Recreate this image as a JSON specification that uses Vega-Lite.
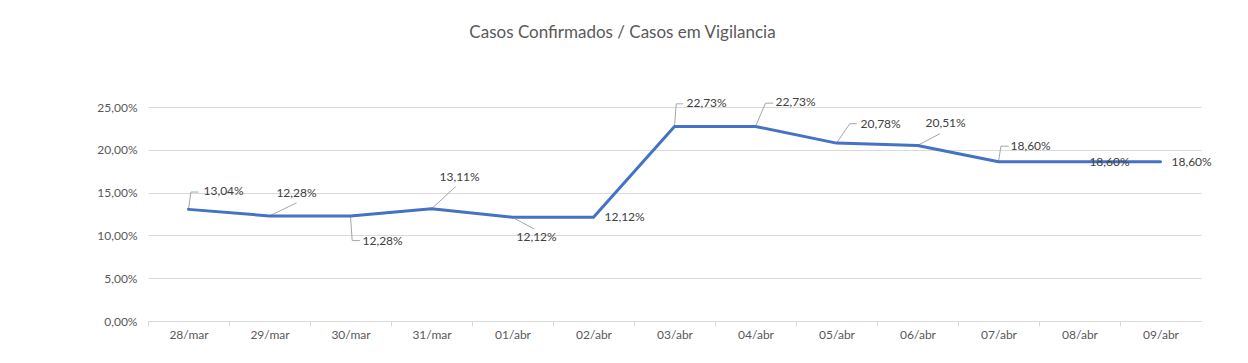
{
  "$schema": "https://vega.github.io/schema/vega-lite/v6.json",
  "width": 1053,
  "height": 214,
  "autosize": {"type": "none"},
  "padding": {"left": 148, "top": 107, "right": 47, "bottom": 42},
  "background": "white",
  "title": {
    "text": "Casos Confirmados / Casos em Vigilancia",
    "font": "Lato",
    "fontSize": 17,
    "fontWeight": "normal",
    "color": "#595959",
    "anchor": "middle",
    "dx": -52,
    "dy": -50
  },
  "data": {
    "values": [
      {"date": "28/mar", "value": 0.1304},
      {"date": "29/mar", "value": 0.1228},
      {"date": "30/mar", "value": 0.1228},
      {"date": "31/mar", "value": 0.1311},
      {"date": "01/abr", "value": 0.1212},
      {"date": "02/abr", "value": 0.1212},
      {"date": "03/abr", "value": 0.2273},
      {"date": "04/abr", "value": 0.2273},
      {"date": "05/abr", "value": 0.2078},
      {"date": "06/abr", "value": 0.2051},
      {"date": "07/abr", "value": 0.186},
      {"date": "08/abr", "value": 0.186},
      {"date": "09/abr", "value": 0.186}
    ]
  },
  "encoding": {
    "x": {
      "field": "date", "type": "ordinal", "sort": null,
      "scale": {"type": "point", "padding": 0.5, "domain": ["28/mar", "29/mar", "30/mar", "31/mar", "01/abr", "02/abr", "03/abr", "04/abr", "05/abr", "06/abr", "07/abr", "08/abr", "09/abr"]},
      "axis": {
        "title": null, "labelAngle": 0, "labelFont": "Lato", "labelFontSize": 12,
        "labelColor": "#595959", "domainColor": "#D9D9D9", "tickColor": "#D9D9D9",
        "tickSize": 5, "tickOffset": -40.5, "labelOffset": 40.5, "labelPadding": 3, "grid": false
      }
    },
    "y": {
      "field": "value", "type": "quantitative",
      "scale": {"domain": [0, 0.25], "nice": false},
      "axis": {
        "title": null, "values": [0, 0.05, 0.1, 0.15, 0.2, 0.25], "format": ".2%",
        "labelFont": "Lato", "labelFontSize": 12, "labelColor": "#595959",
        "domain": false, "ticks": false, "labelPadding": 11,
        "gridColor": "#D9D9D9", "gridWidth": 1
      }
    }
  },
  "layer": [
    {"transform": [{"filter": {"field": "date", "equal": "28/mar"}}], "mark": {"type": "rule", "color": "#A6A6A6", "strokeWidth": 1, "xOffset": 0, "yOffset": 0, "x2Offset": 2.4, "y2Offset": -17.3}, "encoding": {"x2": {"field": "date"}, "y2": {"field": "value"}}},
    {"transform": [{"filter": {"field": "date", "equal": "28/mar"}}], "mark": {"type": "rule", "color": "#A6A6A6", "strokeWidth": 1, "xOffset": 2.4, "yOffset": -17.3, "x2Offset": 10, "y2Offset": -17.3}, "encoding": {"x2": {"field": "date"}, "y2": {"field": "value"}}},
    {"transform": [{"filter": {"field": "date", "equal": "29/mar"}}], "mark": {"type": "rule", "color": "#A6A6A6", "strokeWidth": 1, "xOffset": 0, "yOffset": 0, "x2Offset": 27, "y2Offset": -13}, "encoding": {"x2": {"field": "date"}, "y2": {"field": "value"}}},
    {"transform": [{"filter": {"field": "date", "equal": "30/mar"}}], "mark": {"type": "rule", "color": "#A6A6A6", "strokeWidth": 1, "xOffset": 0, "yOffset": 0.7, "x2Offset": 1.7, "y2Offset": 24.7}, "encoding": {"x2": {"field": "date"}, "y2": {"field": "value"}}},
    {"transform": [{"filter": {"field": "date", "equal": "30/mar"}}], "mark": {"type": "rule", "color": "#A6A6A6", "strokeWidth": 1, "xOffset": 1.7, "yOffset": 24.7, "x2Offset": 9.3, "y2Offset": 24.7}, "encoding": {"x2": {"field": "date"}, "y2": {"field": "value"}}},
    {"transform": [{"filter": {"field": "date", "equal": "31/mar"}}], "mark": {"type": "rule", "color": "#A6A6A6", "strokeWidth": 1, "xOffset": 0, "yOffset": 0, "x2Offset": 24.3, "y2Offset": -22.3}, "encoding": {"x2": {"field": "date"}, "y2": {"field": "value"}}},
    {"transform": [{"filter": {"field": "date", "equal": "01/abr"}}], "mark": {"type": "rule", "color": "#A6A6A6", "strokeWidth": 1, "xOffset": 2.6, "yOffset": 1.6, "x2Offset": 21.6, "y2Offset": 11.6}, "encoding": {"x2": {"field": "date"}, "y2": {"field": "value"}}},
    {"transform": [{"filter": {"field": "date", "equal": "03/abr"}}], "mark": {"type": "rule", "color": "#A6A6A6", "strokeWidth": 1, "xOffset": 0, "yOffset": 0, "x2Offset": 1.7, "y2Offset": -22.6}, "encoding": {"x2": {"field": "date"}, "y2": {"field": "value"}}},
    {"transform": [{"filter": {"field": "date", "equal": "03/abr"}}], "mark": {"type": "rule", "color": "#A6A6A6", "strokeWidth": 1, "xOffset": 1.7, "yOffset": -22.6, "x2Offset": 8.3, "y2Offset": -22.6}, "encoding": {"x2": {"field": "date"}, "y2": {"field": "value"}}},
    {"transform": [{"filter": {"field": "date", "equal": "04/abr"}}], "mark": {"type": "rule", "color": "#A6A6A6", "strokeWidth": 1, "xOffset": 0, "yOffset": 0, "x2Offset": 10, "y2Offset": -23.3}, "encoding": {"x2": {"field": "date"}, "y2": {"field": "value"}}},
    {"transform": [{"filter": {"field": "date", "equal": "04/abr"}}], "mark": {"type": "rule", "color": "#A6A6A6", "strokeWidth": 1, "xOffset": 10, "yOffset": -23.3, "x2Offset": 17.7, "y2Offset": -23.3}, "encoding": {"x2": {"field": "date"}, "y2": {"field": "value"}}},
    {"transform": [{"filter": {"field": "date", "equal": "05/abr"}}], "mark": {"type": "rule", "color": "#A6A6A6", "strokeWidth": 1, "xOffset": 0, "yOffset": 0, "x2Offset": 13.3, "y2Offset": -19.4}, "encoding": {"x2": {"field": "date"}, "y2": {"field": "value"}}},
    {"transform": [{"filter": {"field": "date", "equal": "05/abr"}}], "mark": {"type": "rule", "color": "#A6A6A6", "strokeWidth": 1, "xOffset": 13.3, "yOffset": -19.4, "x2Offset": 20.3, "y2Offset": -19.4}, "encoding": {"x2": {"field": "date"}, "y2": {"field": "value"}}},
    {"transform": [{"filter": {"field": "date", "equal": "06/abr"}}], "mark": {"type": "rule", "color": "#A6A6A6", "strokeWidth": 1, "xOffset": 0, "yOffset": 0, "x2Offset": 22.3, "y2Offset": -11.7}, "encoding": {"x2": {"field": "date"}, "y2": {"field": "value"}}},
    {"transform": [{"filter": {"field": "date", "equal": "07/abr"}}], "mark": {"type": "rule", "color": "#A6A6A6", "strokeWidth": 1, "xOffset": 0, "yOffset": 0, "x2Offset": 2.4, "y2Offset": -15.6}, "encoding": {"x2": {"field": "date"}, "y2": {"field": "value"}}},
    {"transform": [{"filter": {"field": "date", "equal": "07/abr"}}], "mark": {"type": "rule", "color": "#A6A6A6", "strokeWidth": 1, "xOffset": 2.4, "yOffset": -15.6, "x2Offset": 10, "y2Offset": -15.6}, "encoding": {"x2": {"field": "date"}, "y2": {"field": "value"}}},
    {"mark": {"type": "line", "color": "#4472C4", "strokeWidth": 3, "strokeJoin": "round", "strokeCap": "round"}},
    {"transform": [{"filter": {"field": "date", "equal": "28/mar"}}], "mark": {"type": "text", "align": "left", "baseline": "middle", "dx": 15, "dy": -18, "font": "Lato", "fontSize": 12, "color": "#404040"}, "encoding": {"text": {"field": "value", "format": ".2%"}}},
    {"transform": [{"filter": {"field": "date", "equal": "29/mar"}}], "mark": {"type": "text", "align": "center", "baseline": "middle", "dx": 27, "dy": -23, "font": "Lato", "fontSize": 12, "color": "#404040"}, "encoding": {"text": {"field": "value", "format": ".2%"}}},
    {"transform": [{"filter": {"field": "date", "equal": "30/mar"}}], "mark": {"type": "text", "align": "left", "baseline": "middle", "dx": 12, "dy": 25, "font": "Lato", "fontSize": 12, "color": "#404040"}, "encoding": {"text": {"field": "value", "format": ".2%"}}},
    {"transform": [{"filter": {"field": "date", "equal": "31/mar"}}], "mark": {"type": "text", "align": "left", "baseline": "middle", "dx": 8, "dy": -32, "font": "Lato", "fontSize": 12, "color": "#404040"}, "encoding": {"text": {"field": "value", "format": ".2%"}}},
    {"transform": [{"filter": {"field": "date", "equal": "01/abr"}}], "mark": {"type": "text", "align": "left", "baseline": "middle", "dx": 4, "dy": 20, "font": "Lato", "fontSize": 12, "color": "#404040"}, "encoding": {"text": {"field": "value", "format": ".2%"}}},
    {"transform": [{"filter": {"field": "date", "equal": "02/abr"}}], "mark": {"type": "text", "align": "left", "baseline": "middle", "dx": 11, "dy": 0, "font": "Lato", "fontSize": 12, "color": "#404040"}, "encoding": {"text": {"field": "value", "format": ".2%"}}},
    {"transform": [{"filter": {"field": "date", "equal": "03/abr"}}], "mark": {"type": "text", "align": "left", "baseline": "middle", "dx": 12, "dy": -23, "font": "Lato", "fontSize": 12, "color": "#404040"}, "encoding": {"text": {"field": "value", "format": ".2%"}}},
    {"transform": [{"filter": {"field": "date", "equal": "04/abr"}}], "mark": {"type": "text", "align": "left", "baseline": "middle", "dx": 20, "dy": -24, "font": "Lato", "fontSize": 12, "color": "#404040"}, "encoding": {"text": {"field": "value", "format": ".2%"}}},
    {"transform": [{"filter": {"field": "date", "equal": "05/abr"}}], "mark": {"type": "text", "align": "left", "baseline": "middle", "dx": 24, "dy": -19, "font": "Lato", "fontSize": 12, "color": "#404040"}, "encoding": {"text": {"field": "value", "format": ".2%"}}},
    {"transform": [{"filter": {"field": "date", "equal": "06/abr"}}], "mark": {"type": "text", "align": "left", "baseline": "middle", "dx": 8, "dy": -22, "font": "Lato", "fontSize": 12, "color": "#404040"}, "encoding": {"text": {"field": "value", "format": ".2%"}}},
    {"transform": [{"filter": {"field": "date", "equal": "07/abr"}}], "mark": {"type": "text", "align": "left", "baseline": "middle", "dx": 12, "dy": -16, "font": "Lato", "fontSize": 12, "color": "#404040"}, "encoding": {"text": {"field": "value", "format": ".2%"}}},
    {"transform": [{"filter": {"field": "date", "equal": "08/abr"}}], "mark": {"type": "text", "align": "center", "baseline": "middle", "dx": 30, "dy": 0, "font": "Lato", "fontSize": 12, "color": "#404040"}, "encoding": {"text": {"field": "value", "format": ".2%"}}},
    {"transform": [{"filter": {"field": "date", "equal": "09/abr"}}], "mark": {"type": "text", "align": "left", "baseline": "middle", "dx": 11, "dy": 0, "font": "Lato", "fontSize": 12, "color": "#404040"}, "encoding": {"text": {"field": "value", "format": ".2%"}}}
  ],
  "config": {
    "view": {"stroke": null},
    "locale": {"number": {"decimal": ",", "thousands": ".", "grouping": [3], "currency": ["R$", ""]}}
  }
}
